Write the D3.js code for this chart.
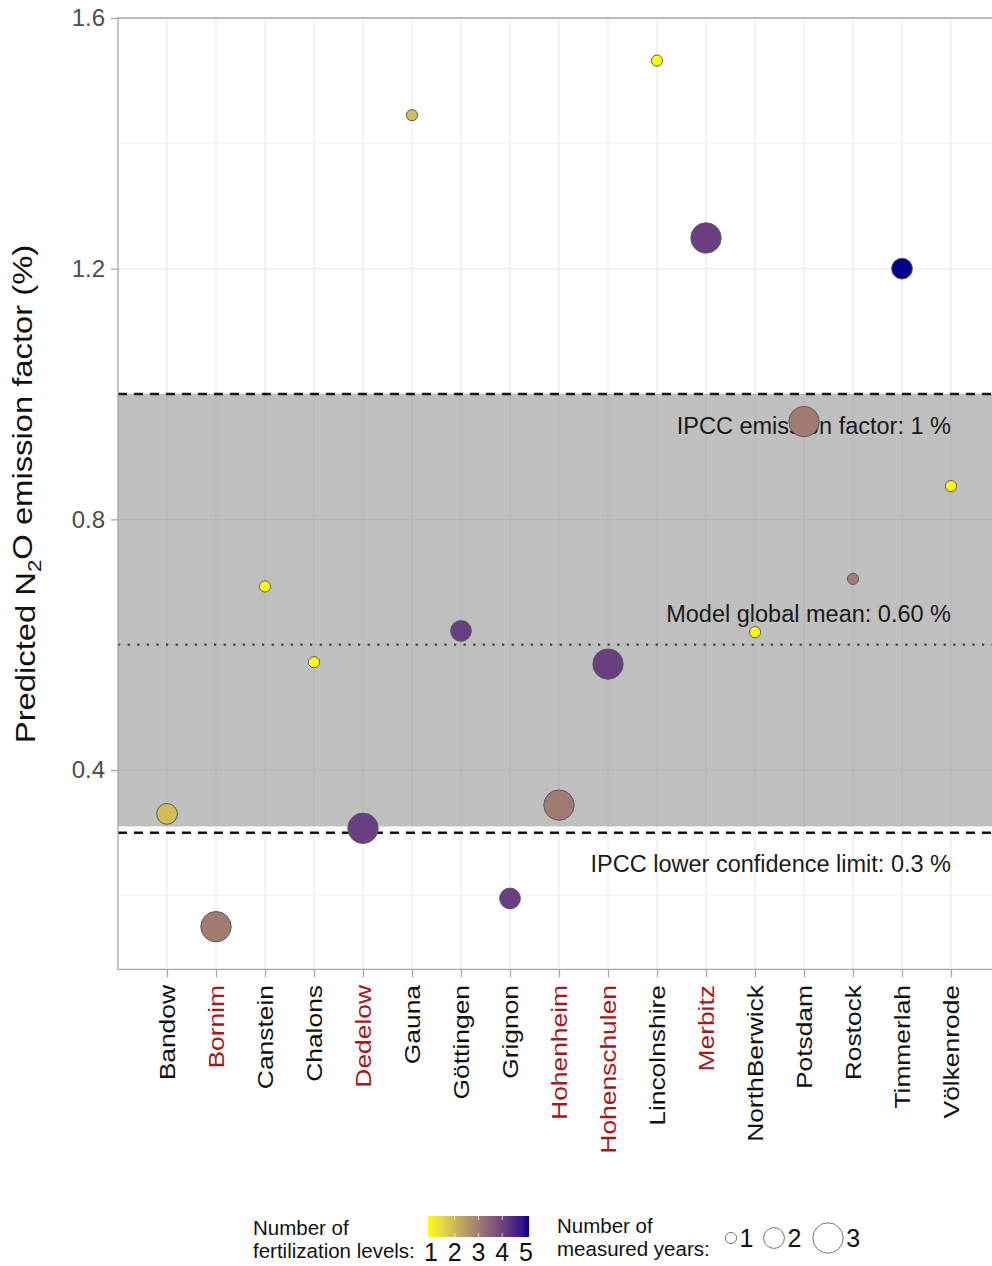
<!DOCTYPE html>
<html>
<head>
<meta charset="utf-8">
<script src="https://cdn.jsdelivr.net/npm/d3@7"></script>
<style>
  html, body { margin: 0; padding: 0; background: #fff; }
  svg { display: block; font-family: "Liberation Sans", Arial, sans-serif; }
</style>
</head>
<body>
<svg id="chart" width="992" height="1266"></svg>
<script>
// Experimental sites along the x axis
const sites = ["Bandow", "Bornim", "Canstein", "Chalons", "Dedelow", "Gauna", "Göttingen",
  "Grignon", "Hohenheim", "Hohenschulen", "Lincolnshire", "Merbitz", "NorthBerwick",
  "Potsdam", "Rostock", "Timmerlah", "Völkenrode"];
// Sites whose labels are highlighted in red
const highlightedSites = ["Bornim", "Dedelow", "Hohenheim", "Hohenschulen", "Merbitz"];
// Predicted N2O emission factor (%) per site
const emissionFactor = [0.330, 0.150, 0.693, 0.572, 0.307, 1.445, 0.622, 0.195, 0.344,
  0.569, 1.532, 1.249, 0.620, 0.956, 0.705, 1.200, 0.853];
// Number of fertilization levels per site
const fertLevels = [2, 3, 1, 1, 4, 2, 4, 4, 3, 4, 1, 4, 1, 3, 3, 5, 1];
// Number of measured years per site
const measuredYears = [2, 3, 1, 1, 3, 1, 2, 2, 3, 3, 1, 3, 1, 3, 1, 2, 1];

// Reference lines and band
const ipccFactor = 1.0;
const ipccLower = 0.3;
const globalMean = 0.60;
const bandRange = [0.31, 1.0];
const yTicks = [0.4, 0.8, 1.2, 1.6];
const yMinorTicks = [0.2, 0.6, 1.0, 1.4];
const colorLegendValues = [1, 2, 3, 4, 5];
const sizeLegendValues = [1, 2, 3];

const annotations = [
  { y: 0.95, text: "IPCC emission factor: 1 %" },
  { y: 0.65, text: "Model global mean: 0.60 %" },
  { y: 0.25, text: "IPCC lower confidence limit: 0.3 %" }
];

const svg = d3.select("#chart");
const panel = { left: 118, right: 1000, top: 18, bottom: 969.3 };

const x = d3.scalePoint().domain(sites).range([panel.left, panel.right]).padding(1);
const y = d3.scaleLinear().domain([0.082, 1.6]).range([panel.bottom, panel.top]);
const color = d3.scaleLinear().domain([1, 5]).range(["yellow", "darkblue"])
  .interpolate(d3.interpolateLab);
const radius = d3.scaleLinear().domain([1, 3]).range([5.6, 15.2]);

// Panel background and grid
svg.append("rect").attr("x", panel.left).attr("y", panel.top)
  .attr("width", panel.right - panel.left).attr("height", panel.bottom - panel.top).attr("fill", "#fff");

const grid = svg.append("g");
grid.selectAll("line.minor").data(yMinorTicks).join("line")
  .attr("x1", panel.left).attr("x2", panel.right)
  .attr("y1", d => y(d)).attr("y2", d => y(d))
  .attr("stroke", "#f3f3f3").attr("stroke-width", 1);
grid.selectAll("line.hmajor").data(yTicks).join("line")
  .attr("x1", panel.left).attr("x2", panel.right)
  .attr("y1", d => y(d)).attr("y2", d => y(d))
  .attr("stroke", "#ebebeb").attr("stroke-width", 1.2);
grid.selectAll("line.vmajor").data(sites).join("line")
  .attr("x1", d => x(d)).attr("x2", d => x(d))
  .attr("y1", panel.top).attr("y2", panel.bottom)
  .attr("stroke", "#ebebeb").attr("stroke-width", 1.2);

// Shaded band
svg.append("rect")
  .attr("x", panel.left).attr("width", panel.right - panel.left)
  .attr("y", y(bandRange[1])).attr("height", y(bandRange[0]) - y(bandRange[1]))
  .attr("fill", "#808080").attr("fill-opacity", 0.5);

// Reference lines
[ipccFactor, ipccLower].forEach(v => {
  svg.append("line")
    .attr("x1", panel.left).attr("x2", panel.right)
    .attr("y1", y(v)).attr("y2", y(v))
    .attr("stroke", "#111").attr("stroke-width", 2.4)
    .attr("stroke-dasharray", "9,7");
});
svg.append("line")
  .attr("x1", panel.left).attr("x2", panel.right)
  .attr("y1", y(globalMean)).attr("y2", y(globalMean))
  .attr("stroke", "#444").attr("stroke-width", 2.2)
  .attr("stroke-dasharray", "2.2,7.4");

// Annotations (drawn beneath the points)
svg.selectAll("text.annot").data(annotations).join("text")
  .attr("x", x("Völkenrode")).attr("y", d => y(d.y))
  .attr("dy", "0.36em")
  .attr("text-anchor", "end")
  .attr("font-size", 23.5).attr("fill", "#1a1a1a")
  .text(d => d.text);

// Points
const pts = sites.map((s, i) => ({ site: s, v: emissionFactor[i], f: fertLevels[i], n: measuredYears[i] }));
svg.append("g").selectAll("circle").data(pts).join("circle")
  .attr("cx", d => x(d.site)).attr("cy", d => y(d.v))
  .attr("r", d => radius(d.n))
  .attr("fill", d => color(d.f))
  .attr("stroke", "#5a5a5a").attr("stroke-width", 1);

// Panel border (left, top, bottom)
const borderColor = "#a6a6a6";
svg.append("path")
  .attr("d", `M${panel.right},${panel.top}H${panel.left}V${panel.bottom}H${panel.right}`)
  .attr("fill", "none").attr("stroke", borderColor).attr("stroke-width", 1.3);

// Y axis
const yAxis = svg.append("g").attr("transform", `translate(${panel.left},0)`)
  .call(d3.axisLeft(y).tickValues(yTicks).tickFormat(d3.format(".1f")).tickSize(7).tickPadding(6));
yAxis.select(".domain").remove();
yAxis.selectAll(".tick line").attr("stroke", borderColor).attr("stroke-width", 1.3);
yAxis.selectAll(".tick text").attr("font-size", 24).attr("fill", "#4d4d4d")
  .attr("font-family", "Liberation Sans, Arial, sans-serif");

// X axis ticks
const xAxis = svg.append("g").attr("transform", `translate(0,${panel.bottom})`)
  .call(d3.axisBottom(x).tickSize(8).tickFormat(""));
xAxis.select(".domain").remove();
xAxis.selectAll(".tick line").attr("stroke", borderColor).attr("stroke-width", 1.3);

// X labels, rotated
svg.append("g").selectAll("text").data(sites).join("text")
  .attr("transform", d => `translate(${x(d)},985) rotate(-90) scale(1.2,1)`)
  .attr("text-anchor", "end").attr("dy", "0.36em")
  .attr("font-size", 22)
  .attr("fill", d => highlightedSites.includes(d) ? "#a3181b" : "#111")
  .text(d => d);

// Y title
const yTitle = svg.append("text")
  .attr("transform", "translate(25,494) rotate(-90) scale(1.17,1)")
  .attr("text-anchor", "middle").attr("dy", "0.36em")
  .attr("font-size", 28).attr("fill", "#111");
yTitle.append("tspan").text("Predicted N");
yTitle.append("tspan").attr("font-size", 19).attr("dy", "0.3em").text("2");
yTitle.append("tspan").attr("dy", "-0.3em").text("O emission factor (%)");

// Colour legend
const leg = svg.append("g");
leg.append("text").attr("x", 253).attr("y", 1235).attr("font-size", 20.5).attr("fill", "#111").text("Number of");
leg.append("text").attr("x", 253).attr("y", 1258).attr("font-size", 20.5).attr("fill", "#111").text("fertilization levels:");

const cbX = d3.scaleLinear().domain([1, 5]).range([431, 526]);
const grad = svg.append("defs").append("linearGradient").attr("id", "fertGrad");
d3.range(0, 1.0001, 0.05).forEach(t => {
  grad.append("stop").attr("offset", t).attr("stop-color", color(1 + 4 * t));
});
leg.append("rect").attr("x", 428).attr("y", 1216).attr("width", 101).attr("height", 21)
  .attr("fill", "url(#fertGrad)");
colorLegendValues.slice(1, -1).forEach(v => {
  leg.append("line").attr("x1", cbX(v)).attr("x2", cbX(v)).attr("y1", 1216).attr("y2", 1220)
    .attr("stroke", "#fff").attr("stroke-opacity", 0.7);
  leg.append("line").attr("x1", cbX(v)).attr("x2", cbX(v)).attr("y1", 1233).attr("y2", 1237)
    .attr("stroke", "#fff").attr("stroke-opacity", 0.7);
});
leg.selectAll("text.cb").data(colorLegendValues).join("text")
  .attr("x", d => cbX(d)).attr("y", 1261).attr("text-anchor", "middle")
  .attr("font-size", 25).attr("fill", "#111").text(d => d);

// Size legend
leg.append("text").attr("x", 557).attr("y", 1233).attr("font-size", 20.5).attr("fill", "#111").text("Number of");
leg.append("text").attr("x", 557).attr("y", 1256).attr("font-size", 20.5).attr("fill", "#111").text("measured years:");
const sizeKeyX = [731, 774, 828];
sizeLegendValues.forEach((v, i) => {
  leg.append("circle").attr("cx", sizeKeyX[i]).attr("cy", 1238).attr("r", radius(v))
    .attr("fill", "#fff").attr("stroke", "#777").attr("stroke-width", 1);
  leg.append("text").attr("x", sizeKeyX[i] + radius(v) + 3).attr("y", 1247)
    .attr("font-size", 25).attr("fill", "#111").text(v);
});
</script>
</body>
</html>
